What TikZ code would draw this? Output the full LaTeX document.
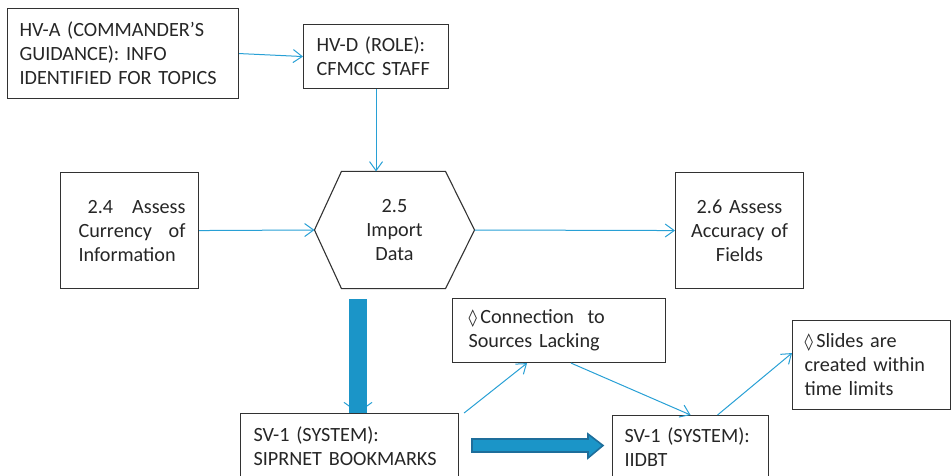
\documentclass[tikz,border=0pt]{standalone}
\usepackage{fontspec}
\setmainfont{Carlito}
\newfontfamily\dejavu{DejaVu Sans}
\usetikzlibrary{arrows.meta,calc}
\definecolor{ln}{RGB}{40,160,213}
\definecolor{barc}{RGB}{27,149,200}
\definecolor{barb}{RGB}{30,110,155}
\definecolor{bx}{RGB}{50,50,50}
\newcommand{\dia}{{\dejavu\fontsize{17}{17}\selectfont ◊}}
\begin{document}
\begin{tikzpicture}[x=1pt,y=-1pt,
 box/.style={draw=bx,line width=1.1pt,anchor=north west,inner xsep=12pt,inner ysep=0pt,align=left,
   font=\fontsize{20.2}{24}\selectfont,text=black!85},
 conn/.style={draw=ln,line width=1pt,-{Straight Barb[length=9pt,width=13pt]}}]
\useasboundingbox (0,0) rectangle (951,476);
\node[box,minimum width=231,minimum height=90,text width=207] (hva) at (7,8)
  {HV-A (COMMANDER’S\\GUIDANCE): INFO\\IDENTIFIED FOR TOPICS};
\node[box,minimum width=145,minimum height=64,inner xsep=13pt,text width=119] (hvd) at (303,24)
  {HV-D (ROLE):\\CFMCC STAFF};
\node[box,minimum width=138,minimum height=116,inner xsep=0pt,text width=138] (b24) at (60,172)
  {\hspace*{18pt}\hbox to 107pt{\hspace{9pt}2.4\hfill Assess}\\
   \hspace*{18pt}\hbox to 107pt{Currency\hfill of}\\
   \hspace*{18pt}Information};
\node[box,draw=none,anchor=center,minimum width=159,minimum height=116,inner xsep=0pt,text width=159,align=center] (hex) at (394.5,230)
  {2.5\\Import\\Data};
\draw[bx,line width=1.1pt] (hex.west) -- ([xshift=27pt]hex.north west) -- ([xshift=-29pt]hex.north east)
  -- (hex.east) -- ([xshift=-29pt]hex.south east) -- ([xshift=27pt]hex.south west) -- cycle;
\node[box,minimum width=128,minimum height=116,text width=104,align=center] (b26) at (675,172)
  {2.6 Assess\\Accuracy of\\Fields};
\node[box,minimum width=213,minimum height=64,inner xsep=16pt,text width=181] (con) at (452,298)
  {\dia\,Connection\ \ to\\Sources Lacking};
\node[box,minimum width=158,minimum height=89,text width=134] (sld) at (792,320)
  {\dia\,Slides are\\created within\\time limits};
\node[box,minimum width=218,minimum height=66,inner xsep=13pt,text width=192] (sv1) at (240,413)
  {SV-1 (SYSTEM):\\SIPRNET BOOKMARKS};
\node[box,minimum width=156,minimum height=64,text width=132] (iid) at (612,415)
  {SV-1 (SYSTEM):\\IIDBT};
% connectors
\draw[conn] (hva.east) -- (hvd.west);
\draw[conn] (hvd.south) -- (hvd.south |- hex.north);
\draw[conn] (b24.east) -- (hex.west);
\draw[conn] (hex.east) -- (b26.west);
\draw[conn] ([xshift=5pt]sv1.north east) -- ([xshift=-32pt]con.south);
\draw[conn] ([xshift=12pt]con.south) -- (iid.north);
\draw[conn] ([xshift=27pt]iid.north) -- ([yshift=12pt]sld.west);
% thick bar
\coordinate (bt) at (358,299);
\draw[conn,-{Straight Barb[length=10pt,width=28pt]}] (bt) -- (bt |- sv1.north);
\draw[barc,line width=18pt] (bt) -- (bt |- sv1.north);
% block arrow
\coordinate (ba) at (472,439);
\draw[fill=barc,draw=barb,line width=1.6pt,line join=miter] (ba) -- ++(116,0) -- ++(0,-5) -- ++(15,11.5)
  -- ++(-15,12.5) -- ++(0,-6) -- ++(-116,0) -- cycle;
\end{tikzpicture}
\end{document}
